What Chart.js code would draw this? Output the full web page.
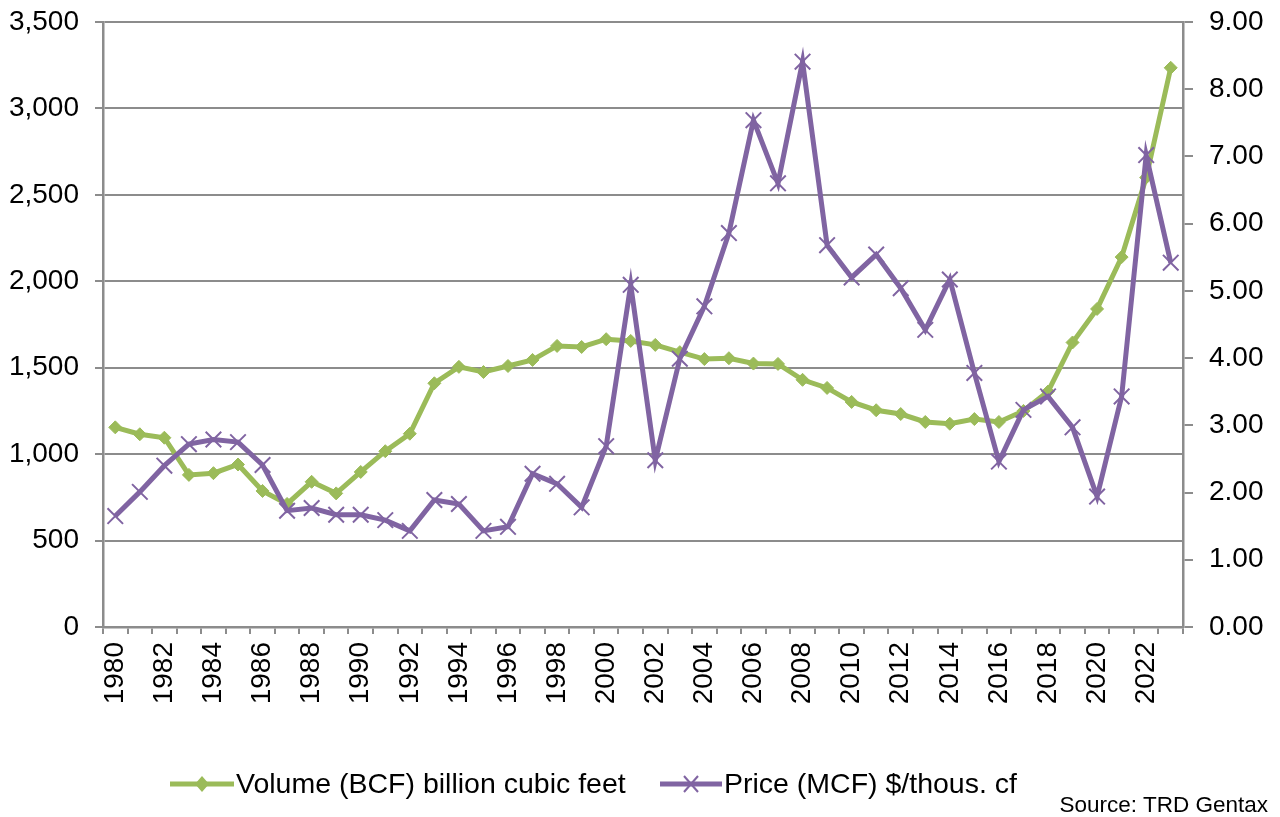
<!DOCTYPE html>
<html>
<head>
<meta charset="utf-8">
<script src="https://cdn.jsdelivr.net/npm/chart.js@4.4.1/dist/chart.umd.min.js"></script>
<style>
  html, body { margin: 0; padding: 0; background: #fff; }
  #wrap { position: relative; width: 1280px; height: 817px; font-family: "Liberation Sans", Arial, sans-serif; }
  #chart { position: absolute; left: 0; top: 0; }
  .legend { position: absolute; top: 767px; font-size: 28.5px; color: #000; display: flex; align-items: center; white-space: nowrap; }
  .legend svg { margin-right: 2px; }
  #source { position: absolute; right: 12px; top: 792px; font-size: 22.5px; color: #000; }
</style>
</head>
<body>
<div id="wrap">
  <canvas id="chart" width="1280" height="817"></canvas>
  <div class="legend" style="left:170px;">
    <svg width="64" height="20"><line x1="0" y1="10" x2="64" y2="10" stroke="#9BBB59" stroke-width="5"/><polygon points="32,2 39,10 32,18 25,10" fill="#9BBB59"/></svg>Volume (BCF) billion cubic feet
  </div>
  <div class="legend" style="left:660px;">
    <svg width="62" height="24"><line x1="0" y1="12" x2="62" y2="12" stroke="#8064A2" stroke-width="5"/><line x1="24" y1="4" x2="38" y2="20" stroke="#8064A2" stroke-width="2"/><line x1="38" y1="4" x2="24" y2="20" stroke="#8064A2" stroke-width="2"/></svg>Price (MCF) $/thous. cf
  </div>
  <div id="source">Source: TRD Gentax</div>
</div>
<script>
// ---- data ----
const years = [
  1980, 1981, 1982, 1983, 1984, 1985, 1986, 1987, 1988, 1989,
  1990, 1991, 1992, 1993, 1994, 1995, 1996, 1997, 1998, 1999,
  2000, 2001, 2002, 2003, 2004, 2005, 2006, 2007, 2008, 2009,
  2010, 2011, 2012, 2013, 2014, 2015, 2016, 2017, 2018, 2019,
  2020, 2021, 2022, 2023
];

// billion cubic feet
const volume = [
  1155, 1115, 1095, 880, 890, 940, 787, 712, 840, 773,
  897, 1017, 1118, 1410, 1505, 1475, 1510, 1545, 1626, 1620,
  1665, 1655, 1632, 1590, 1550, 1555, 1524, 1522, 1430, 1383,
  1302, 1254, 1232, 1186, 1176, 1203, 1186, 1250, 1362, 1646,
  1840, 2140, 2600, 3235
];

// $ per thousand cubic feet
const price = [
  1.65, 2.01, 2.40, 2.72, 2.79, 2.75, 2.41, 1.73, 1.77, 1.67,
  1.67, 1.59, 1.43, 1.89, 1.83, 1.43, 1.49, 2.28, 2.13, 1.78,
  2.69, 5.09, 2.48, 3.99, 4.77, 5.86, 7.54, 6.60, 8.41, 5.68,
  5.20, 5.54, 5.04, 4.42, 5.17, 3.78, 2.46, 3.23, 3.43, 2.97,
  1.94, 3.43, 7.02, 5.42
];

const GREEN = '#9BBB59';
const PURPLE = '#8064A2';
const GRID = '#8c8c8c';
const FONT = { family: '"Liberation Sans", Arial, sans-serif', size: 28 };

// fixed axis boxes so the plot area sits where the original has it
const fixY = w => s => { s.width = w; s.paddingTop = 0; s.paddingBottom = 0; };

new Chart(document.getElementById('chart'), {
  type: 'line',
  data: {
    labels: years,
    datasets: [
      {
        label: 'Volume (BCF) billion cubic feet',
        data: volume,
        yAxisID: 'y',
        borderColor: GREEN,
        backgroundColor: GREEN,
        borderWidth: 5,
        pointStyle: 'rectRot',
        pointRadius: 6.5,
        pointBorderWidth: 1,
        tension: 0,
        order: 1,
      },
      {
        label: 'Price (MCF) $/thous. cf',
        data: price,
        yAxisID: 'y1',
        borderColor: PURPLE,
        backgroundColor: PURPLE,
        borderWidth: 5,
        pointStyle: 'crossRot',
        pointRadius: 11,
        pointBorderWidth: 2,
        tension: 0,
        order: 0,
      }
    ]
  },
  options: {
    responsive: false,
    animation: false,
    layout: { padding: { top: 22, left: 0, right: 0, bottom: 0 } },
    plugins: { legend: { display: false }, tooltip: { enabled: false } },
    scales: {
      x: {
        offset: true,
        afterFit: s => { s.height = 190; s.paddingLeft = 0; s.paddingRight = 0; },
        grid: { offset: true, drawOnChartArea: false, drawTicks: true, tickLength: 7, color: GRID, lineWidth: 2 },
        border: { color: GRID, width: 2.5 },
        ticks: {
          autoSkip: false, minRotation: 90, maxRotation: 90, padding: 8,
          color: '#000', font: FONT,
          callback: (v, i) => (years[i] % 2 === 0 ? String(years[i]) : '')
        }
      },
      y: {
        position: 'left',
        min: 0, max: 3500,
        afterFit: fixY(103),
        grid: { color: GRID, lineWidth: 2, tickLength: 8 },
        border: { color: GRID, width: 2.5 },
        ticks: {
          stepSize: 500, padding: 16, color: '#000', font: FONT,
          callback: v => v.toLocaleString('en-US')
        }
      },
      y1: {
        position: 'right',
        min: 0, max: 9,
        afterFit: fixY(97),
        grid: { drawOnChartArea: false, color: GRID, lineWidth: 2, tickLength: 10 },
        border: { color: GRID, width: 2.5 },
        ticks: {
          stepSize: 1, padding: 16, color: '#000', font: FONT,
          callback: v => v.toFixed(2)
        }
      }
    }
  }
});
</script>
</body>
</html>
